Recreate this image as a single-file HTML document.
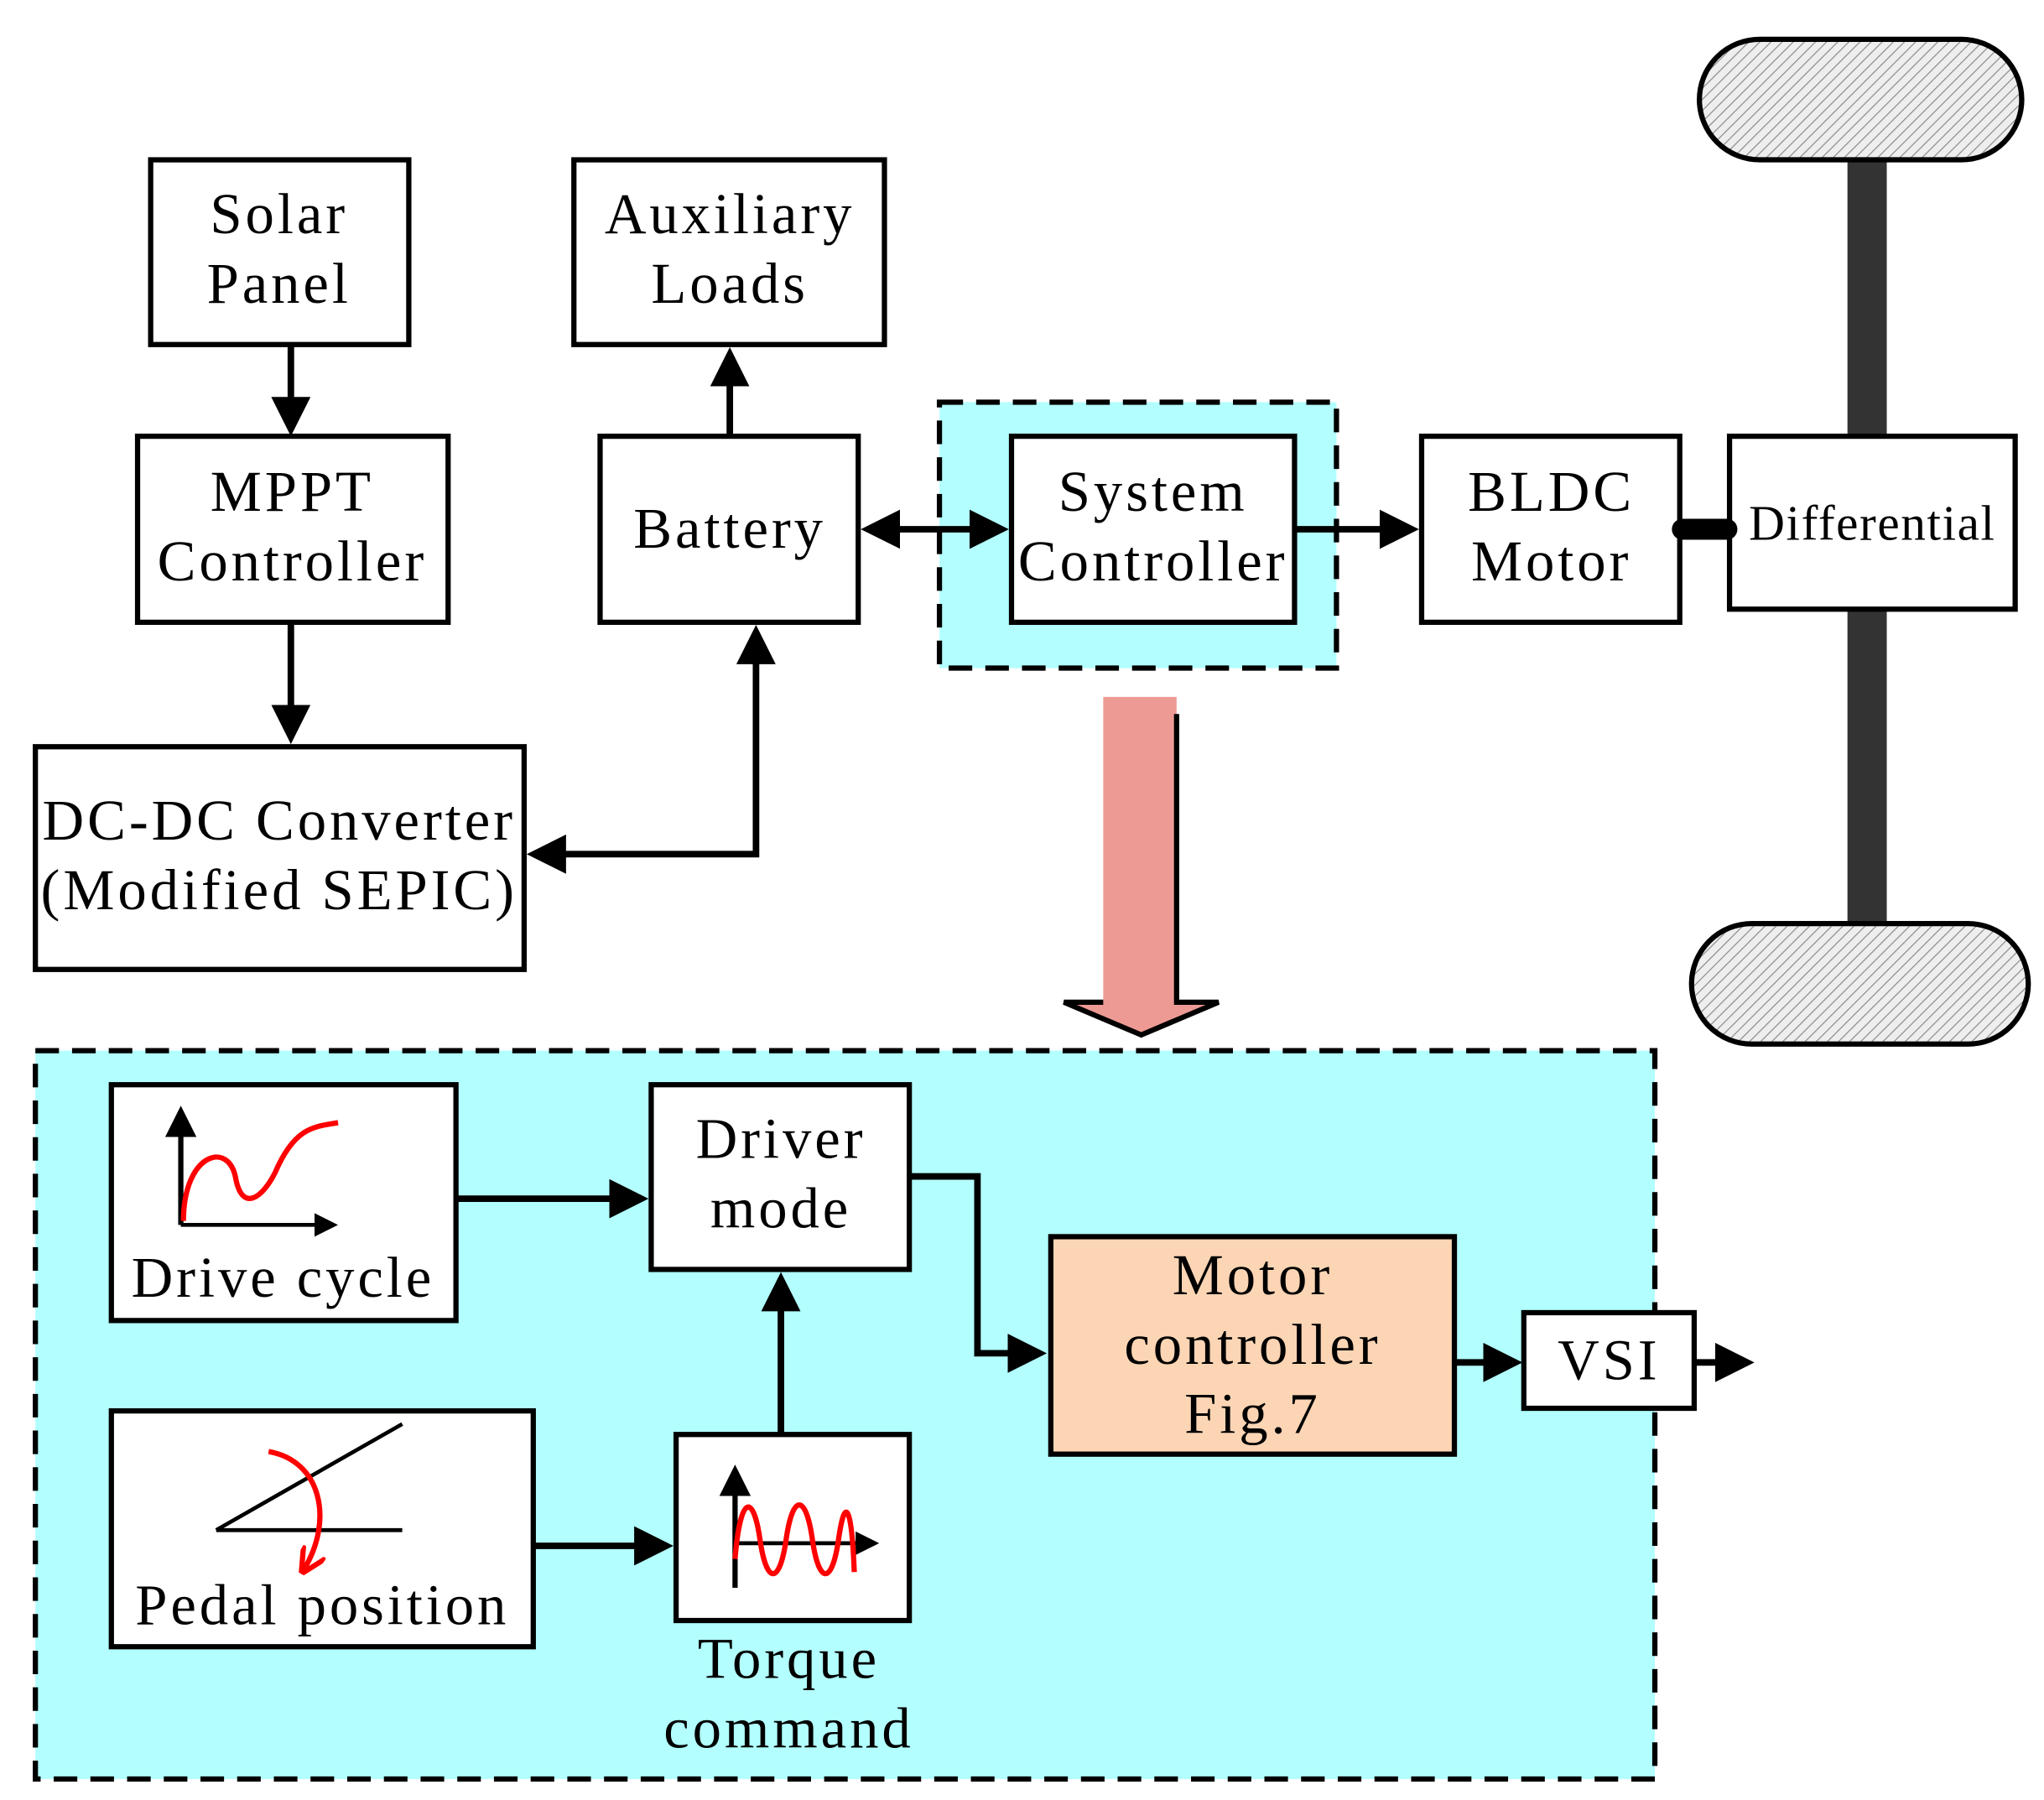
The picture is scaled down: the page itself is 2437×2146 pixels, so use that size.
<!DOCTYPE html>
<html><head><meta charset="utf-8"><style>
html,body{margin:0;padding:0;background:#fff;}
svg{display:block;}
text{font-family:"Liberation Serif",serif;font-size:44px;letter-spacing:2.5px;fill:#000;text-anchor:middle;}
</style></head><body>
<svg width="2437" height="2146" viewBox="0 0 1560 1374" preserveAspectRatio="none" xmlns="http://www.w3.org/2000/svg">
<defs>
<marker id="ah" markerWidth="6" markerHeight="6" refX="5" refY="3" orient="auto" markerUnits="strokeWidth"><path d="M0,0 L6,3 L0,6 z" fill="#000"/></marker>
<marker id="ahs" markerWidth="6" markerHeight="6" refX="1" refY="3" orient="auto" markerUnits="strokeWidth"><path d="M6,0 L0,3 L6,6 z" fill="#000"/></marker>
<marker id="ar" markerWidth="5" markerHeight="5" refX="4" refY="2.5" orient="auto" markerUnits="strokeWidth"><path d="M0,0 L5,2.5 L0,5" fill="none" stroke="#f00" stroke-width="1"/></marker>
<pattern id="hatch" width="6" height="6" patternUnits="userSpaceOnUse" patternTransform="rotate(45)"><rect width="6" height="6" fill="#eee"/><line x1="0" y1="0" x2="0" y2="6" stroke="#888" stroke-width="1.5"/></pattern>
</defs>
<g stroke="#000" stroke-width="4" fill="none">
<rect x="717" y="307" width="303" height="203" fill="#b3ffff" stroke-dasharray="18,10"/>
<rect x="27" y="802" width="1236" height="556" fill="#b3ffff" stroke-dasharray="18,10"/>
<rect x="1410" y="118" width="30" height="590" fill="#333" stroke="none"/>
<rect x="1297" y="30" width="246" height="92" rx="46" fill="url(#hatch)"/>
<rect x="1291" y="705" width="257" height="92" rx="46" fill="url(#hatch)"/>
<rect x="115" y="122" width="197" height="141" fill="#fff"/>
<rect x="105" y="333" width="237" height="142" fill="#fff"/>
<rect x="27" y="570" width="373" height="170" fill="#fff"/>
<rect x="438" y="122" width="237" height="141" fill="#fff"/>
<rect x="458" y="333" width="197" height="142" fill="#fff"/>
<rect x="772" y="333" width="216" height="142" fill="#fff"/>
<rect x="1085" y="333" width="197" height="142" fill="#fff"/>
<rect x="1320" y="333" width="218" height="132" fill="#fff"/>
<line x1="1284" y1="404" x2="1318" y2="404" stroke-width="16" stroke-linecap="round"/>
<rect x="85" y="828" width="263" height="180" fill="#fff"/>
<rect x="497" y="828" width="197" height="141" fill="#fff"/>
<rect x="802" y="944" width="308" height="166" fill="#fcd5b5"/>
<rect x="1163" y="1002" width="130" height="73" fill="#fff"/>
<rect x="85" y="1077" width="322" height="180" fill="#fff"/>
<rect x="516" y="1095" width="178" height="142" fill="#fff"/>
<g stroke-width="5">
<line x1="222" y1="263" x2="222" y2="328" marker-end="url(#ah)"/>
<line x1="222" y1="475" x2="222" y2="563" marker-end="url(#ah)"/>
<line x1="557" y1="333" x2="557" y2="270" marker-end="url(#ah)"/>
<line x1="662" y1="404" x2="765" y2="404" marker-end="url(#ah)" marker-start="url(#ahs)"/>
<line x1="988" y1="404" x2="1078" y2="404" marker-end="url(#ah)"/>
<polyline points="407,652 577,652 577,482" marker-end="url(#ah)" marker-start="url(#ahs)"/>
<line x1="348" y1="915" x2="490" y2="915" marker-end="url(#ah)"/>
<polyline points="694,898 746,898 746,1033 794,1033" marker-end="url(#ah)"/>
<line x1="1110" y1="1040" x2="1157" y2="1040" marker-end="url(#ah)"/>
<line x1="1293" y1="1040" x2="1334" y2="1040" marker-end="url(#ah)"/>
<line x1="407" y1="1180" x2="509" y2="1180" marker-end="url(#ah)"/>
<line x1="596" y1="1095" x2="596" y2="976" marker-end="url(#ah)"/>
</g>
<polygon points="842,532 898,532 898,765 930,765 871,790 812,765 842,765" fill="#ee9a94" stroke="none"/>
<polyline points="898,545 898,765 930,765 871,790 812,765 842,765" stroke-width="4"/>
<polyline points="138,935 138,848" stroke-width="4" marker-end="url(#ah)"/>
<polyline points="138,935 255,935" stroke-width="3" marker-end="url(#ah)"/>
<path d="M140,932 C140,880 175,870 180,900 C185,925 200,915 210,895 C225,860 240,860 258,857" stroke="#f00" stroke-width="4"/>
<line x1="165" y1="1168" x2="307" y2="1168" stroke-width="3"/>
<line x1="165" y1="1168" x2="307" y2="1087" stroke-width="3"/>
<path d="M205,1108 C245,1115 255,1160 232,1198" stroke="#f00" stroke-width="4" marker-end="url(#ar)"/>
<line x1="561" y1="1212" x2="561" y2="1122" stroke-width="4" marker-end="url(#ah)"/>
<line x1="561" y1="1178" x2="668" y2="1178" stroke-width="3" marker-end="url(#ah)"/>
<path d="M561,1190 C565,1140 575,1140 580,1175 C585,1210 595,1210 600,1175 C605,1140 615,1140 620,1175 C625,1210 635,1210 640,1175 C645,1140 650,1150 652,1200" stroke="#f00" stroke-width="4"/>
</g>
<text x="213" y="178">Solar</text><text x="213" y="231">Panel</text>
<text x="223" y="390">MPPT</text><text x="223" y="443">Controller</text>
<text x="213" y="641">DC-DC Converter</text><text x="213" y="694">(Modified SEPIC)</text>
<text x="557" y="178">Auxiliary</text><text x="557" y="231">Loads</text>
<text x="557" y="418">Battery</text>
<text x="880" y="390">System</text><text x="880" y="443">Controller</text>
<text x="1184" y="390">BLDC</text><text x="1184" y="443">Motor</text>
<text x="1429" y="412" style="font-size:38px;letter-spacing:1px">Differential</text>
<text x="216" y="990">Drive cycle</text>
<text x="596" y="884">Driver</text><text x="596" y="937">mode</text>
<text x="956" y="988">Motor</text><text x="956" y="1041">controller</text><text x="956" y="1094">Fig.7</text>
<text x="1228" y="1053">VSI</text>
<text x="246" y="1240">Pedal position</text>
<text x="602" y="1281">Torque</text><text x="602" y="1334">command</text>
</svg>
</body></html>
